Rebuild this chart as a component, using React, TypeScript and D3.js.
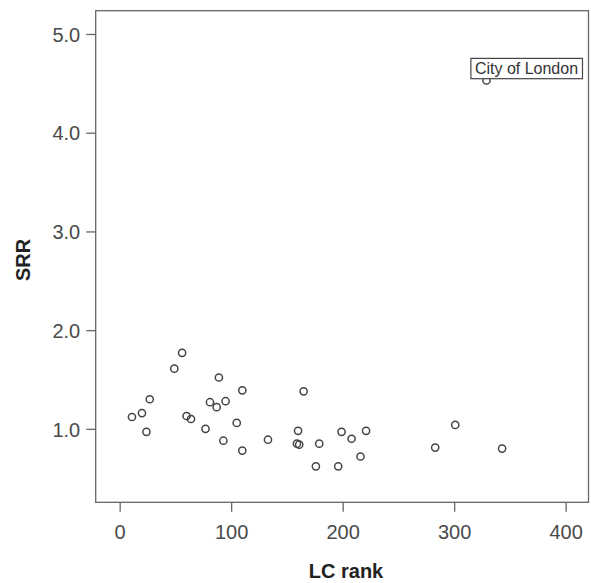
import { useEffect, useRef } from "react";
import * as d3 from "d3";

// LC rank vs SRR, one circle per local council
const lcRank = [11, 20, 24, 27, 49, 56, 60, 64, 77, 81, 87, 89, 95, 93, 105, 110, 110, 133, 165, 160, 159, 161, 179, 176, 196, 199, 208, 221, 216, 283, 301, 343, 329];
const srr = [1.12, 1.16, 0.97, 1.30, 1.61, 1.77, 1.13, 1.10, 1.00, 1.27, 1.22, 1.52, 1.28, 0.88, 1.06, 1.39, 0.78, 0.89, 1.38, 0.98, 0.85, 0.84, 0.85, 0.62, 0.62, 0.97, 0.90, 0.98, 0.72, 0.81, 1.04, 0.80, 4.53];
const labelled = ["City of London"];
const labelledRank = [329];
const labelledSrr = [4.53];
const xTicks = [0, 100, 200, 300, 400];
const yTicks = [1.0, 2.0, 3.0, 4.0, 5.0];

const WIDTH = 591;
const HEIGHT = 583;
const FONT = "'Liberation Sans', Arial, sans-serif";

export default function App() {
  const svgRef = useRef<SVGSVGElement>(null);

  useEffect(() => {
    const svg = d3.select(svgRef.current);
    svg.selectAll("*").remove();

    const left = 95.7, right = 588.5, top = 10.7, bottom = 502.3;
    const x = d3.scaleLinear().domain([-21.5, 420.5]).range([left, right]);
    const y = d3.scaleLinear().domain([0.256, 5.236]).range([bottom, top]);

    /* frame */
    svg.append("rect")
      .attr("x", left).attr("y", top)
      .attr("width", right - left).attr("height", bottom - top)
      .attr("fill", "white").attr("stroke", "#666").attr("stroke-width", 1.3);

    /* x axis */
    const xAxis = svg.append("g")
      .attr("transform", `translate(0,${bottom})`)
      .call(d3.axisBottom(x).tickValues(xTicks).tickSize(9.5).tickPadding(0).tickFormat(d3.format("d")));
    xAxis.select(".domain").remove();
    xAxis.selectAll(".tick line").attr("stroke", "#666").attr("stroke-width", 1.3);
    xAxis.selectAll(".tick text")
      .attr("y", 37).attr("dy", null)
      .attr("fill", "#4a4a4a").style("font-size", "20px").style("font-family", FONT);

    /* y axis */
    const yAxis = svg.append("g")
      .attr("transform", `translate(${left},0)`)
      .call(d3.axisLeft(y).tickValues(yTicks).tickSize(9.5).tickPadding(6).tickFormat(d3.format(".1f")));
    yAxis.select(".domain").remove();
    yAxis.selectAll(".tick line").attr("stroke", "#666").attr("stroke-width", 1.3);
    yAxis.selectAll(".tick text")
      .attr("dy", "0.36em")
      .attr("fill", "#4a4a4a").style("font-size", "20px").style("font-family", FONT);

    /* axis titles */
    svg.append("text")
      .attr("x", 346).attr("y", 578)
      .attr("text-anchor", "middle")
      .attr("fill", "#222").style("font-size", "20px").style("font-weight", "bold").style("font-family", FONT)
      .text("LC rank");
    svg.append("text")
      .attr("transform", "translate(30,260) rotate(-90)")
      .attr("text-anchor", "middle")
      .attr("fill", "#222").style("font-size", "20px").style("font-weight", "bold").style("font-family", FONT)
      .text("SRR");

    /* points */
    svg.append("g")
      .selectAll("circle")
      .data(lcRank.map((r, i) => ({ r, s: srr[i] })))
      .join("circle")
      .attr("cx", (d) => x(d.r))
      .attr("cy", (d) => y(d.s))
      .attr("r", 3.6)
      .attr("fill", "none")
      .attr("stroke", "#444")
      .attr("stroke-width", 1.5);

    /* point label */
    labelled.forEach((name, i) => {
      const px = x(labelledRank[i]);
      const py = y(labelledSrr[i]);
      const g = svg.append("g");
      g.append("rect")
        .attr("x", px - 15.6).attr("y", py - 22)
        .attr("width", 111.6).attr("height", 20.3)
        .attr("fill", "white").attr("stroke", "#444").attr("stroke-width", 1.2);
      g.append("text")
        .attr("x", px - 11.6).attr("y", py - 6)
        .attr("fill", "#333").style("font-size", "16px").style("font-family", FONT)
        .text(name);
    });
  }, []);

  return (
    <svg
      ref={svgRef}
      width={WIDTH}
      height={HEIGHT}
      style={{ position: "absolute", left: 0, top: 0, background: "white" }}
    />
  );
}
